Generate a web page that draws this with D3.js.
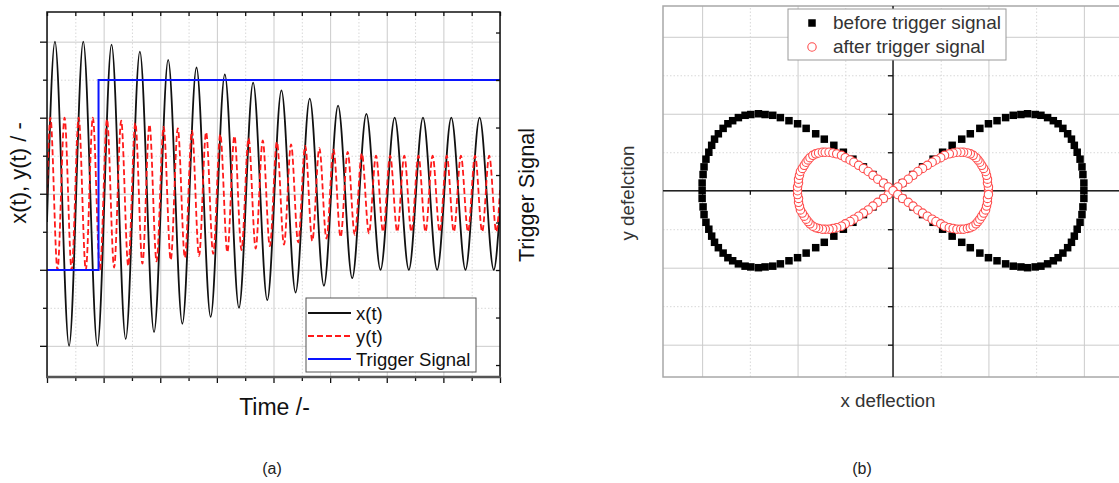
<!DOCTYPE html>
<html><head><meta charset="utf-8">
<script src="https://cdn.jsdelivr.net/npm/d3@7"></script>
<style>
body{margin:0;background:#fff}
svg{display:block}
text{font-family:"Liberation Sans",Arial,sans-serif}
</style>
</head><body>
<svg id="c" width="1119" height="483"></svg>
<script>
// ---------- Panel (a) data ----------
const timeDomain = [0, 16];
const timeMajor = [0, 2, 4, 6, 8, 10, 12, 14, 16];
const timeMinor = [1, 3, 5, 7, 9, 11, 13, 15];
const valueDomain = [-2.41, 2.39];
const valueMajor = [-2, -1, 0, 1, 2];
const valueMinor = [-1.5, -0.5, 0.5, 1.5];
const trigDomain = [-0.563, 1.358];
const trigTicks = [-0.5, -0.25, 0, 0.25, 0.5, 0.75, 1, 1.25];

// x(t): extrema
const xtT = [0,0.28,0.78,1.28,1.78,2.28,2.78,3.28,3.78,4.28,4.78,5.28,5.78,6.28,6.78,7.28,7.78,8.28,8.78,9.28,9.78,10.28,10.78,11.28,11.78,12.28,12.78,13.28,13.78,14.28,14.78,15.28,15.78,16];
const xtV = [-0.37,2.00,-2.00,2.00,-2.00,1.96,-1.91,1.87,-1.82,1.76,-1.71,1.66,-1.62,1.57,-1.50,1.46,-1.40,1.36,-1.30,1.25,-1.21,1.16,-1.11,1.05,-1.00,1.00,-1.00,1.00,-1.00,1.00,-1.00,1.00,-1.00,-0.19];

// y(t): extrema
const ytT = [0,0.12,0.37,0.62,0.87,1.12,1.37,1.62,1.87,2.12,2.37,2.62,2.87,3.12,3.37,3.62,3.87,4.12,4.37,4.62,4.87,5.12,5.37,5.62,5.87,6.12,6.37,6.62,6.87,7.12,7.37,7.62,7.87,8.12,8.37,8.62,8.87,9.12,9.37,9.62,9.87,10.12,10.37,10.62,10.87,11.12,11.37,11.62,11.87,12.12,12.37,12.62,12.87,13.12,13.37,13.62,13.87,14.12,14.37,14.62,14.87,15.12,15.37,15.62,15.87,16];
const ytV = [0,1.00,-1.00,1.00,-1.00,1.00,-1.00,1.00,-1.00,0.98,-0.97,0.96,-0.95,0.93,-0.92,0.91,-0.89,0.88,-0.87,0.86,-0.84,0.83,-0.82,0.81,-0.79,0.78,-0.77,0.76,-0.74,0.73,-0.72,0.70,-0.69,0.68,-0.67,0.65,-0.64,0.63,-0.62,0.60,-0.59,0.58,-0.57,0.55,-0.54,0.53,-0.52,0.50,-0.50,0.50,-0.50,0.50,-0.50,0.50,-0.50,0.50,-0.50,0.50,-0.50,0.50,-0.50,0.50,-0.50,0.50,-0.50,0.05];

// Trigger signal
const trigT = [0, 1.82, 16];
const trigV = [0, 1, 1];

const legendA = ["x(t)", "y(t)", "Trigger Signal"];

// ---------- Panel (b) data ----------
const defDomainX = [-2.41, 2.41];
const defDomainY = [-2.42, 2.40];
const defMajor = [-2, -1, 0, 1, 2];
const defMinor = [-1.5, -0.5, 0.5, 1.5];

const beforeX = [2.00,2.00,1.99,1.98,1.96,1.93,1.90,1.87,1.83,1.78,1.73,1.68,1.62,1.55,1.49,1.41,1.34,1.26,1.18,1.09,1.00,0.91,0.81,0.72,0.62,0.52,0.42,0.31,0.21,0.10,0.00,
-0.10,-0.21,-0.31,-0.42,-0.52,-0.62,-0.72,-0.81,-0.91,-1.00,-1.09,-1.18,-1.26,-1.34,-1.41,-1.49,-1.55,-1.62,-1.68,-1.73,-1.78,-1.83,-1.87,-1.90,-1.93,-1.96,-1.98,-1.99,-2.00,-2.00,
-2.00,-1.99,-1.98,-1.96,-1.93,-1.90,-1.87,-1.83,-1.78,-1.73,-1.68,-1.62,-1.55,-1.49,-1.41,-1.34,-1.26,-1.18,-1.09,-1.00,-0.91,-0.81,-0.72,-0.62,-0.52,-0.42,-0.31,-0.21,-0.10,0.00,
0.10,0.21,0.31,0.42,0.52,0.62,0.72,0.81,0.91,1.00,1.09,1.18,1.26,1.34,1.41,1.49,1.55,1.62,1.68,1.73,1.78,1.83,1.87,1.90,1.93,1.96,1.98,1.99,2.00];
const beforeY = [0.00,0.10,0.21,0.31,0.41,0.50,0.59,0.67,0.74,0.81,0.87,0.91,0.95,0.98,0.99,1.00,0.99,0.98,0.95,0.91,0.87,0.81,0.74,0.67,0.59,0.50,0.41,0.31,0.21,0.10,0.00,
-0.10,-0.21,-0.31,-0.41,-0.50,-0.59,-0.67,-0.74,-0.81,-0.87,-0.91,-0.95,-0.98,-0.99,-1.00,-0.99,-0.98,-0.95,-0.91,-0.87,-0.81,-0.74,-0.67,-0.59,-0.50,-0.41,-0.31,-0.21,-0.10,0.00,
0.10,0.21,0.31,0.41,0.50,0.59,0.67,0.74,0.81,0.87,0.91,0.95,0.98,0.99,1.00,0.99,0.98,0.95,0.91,0.87,0.81,0.74,0.67,0.59,0.50,0.41,0.31,0.21,0.10,0.00,
-0.10,-0.21,-0.31,-0.41,-0.50,-0.59,-0.67,-0.74,-0.81,-0.87,-0.91,-0.95,-0.98,-0.99,-1.00,-0.99,-0.98,-0.95,-0.91,-0.87,-0.81,-0.74,-0.67,-0.59,-0.50,-0.41,-0.31,-0.21,-0.10];
const afterX = [1.00,1.00,0.99,0.99,0.98,0.97,0.95,0.93,0.91,0.89,0.87,0.84,0.81,0.78,0.74,0.71,0.67,0.63,0.59,0.54,0.50,0.45,0.41,0.36,0.31,0.26,0.21,0.16,0.10,0.05,0.00,
-0.05,-0.10,-0.16,-0.21,-0.26,-0.31,-0.36,-0.41,-0.45,-0.50,-0.54,-0.59,-0.63,-0.67,-0.71,-0.74,-0.78,-0.81,-0.84,-0.87,-0.89,-0.91,-0.93,-0.95,-0.97,-0.98,-0.99,-0.99,-1.00,-1.00,
-1.00,-0.99,-0.99,-0.98,-0.97,-0.95,-0.93,-0.91,-0.89,-0.87,-0.84,-0.81,-0.78,-0.74,-0.71,-0.67,-0.63,-0.59,-0.54,-0.50,-0.45,-0.41,-0.36,-0.31,-0.26,-0.21,-0.16,-0.10,-0.05,0.00,
0.05,0.10,0.16,0.21,0.26,0.31,0.36,0.41,0.45,0.50,0.54,0.59,0.63,0.67,0.71,0.74,0.78,0.81,0.84,0.87,0.89,0.91,0.93,0.95,0.97,0.98,0.99,0.99,1.00];
const afterY = [0.00,0.05,0.10,0.15,0.20,0.25,0.29,0.33,0.37,0.40,0.43,0.46,0.48,0.49,0.50,0.50,0.50,0.49,0.48,0.46,0.43,0.40,0.37,0.33,0.29,0.25,0.20,0.15,0.10,0.05,0.00,
-0.05,-0.10,-0.15,-0.20,-0.25,-0.29,-0.33,-0.37,-0.40,-0.43,-0.46,-0.48,-0.49,-0.50,-0.50,-0.50,-0.49,-0.48,-0.46,-0.43,-0.40,-0.37,-0.33,-0.29,-0.25,-0.20,-0.15,-0.10,-0.05,0.00,
0.05,0.10,0.15,0.20,0.25,0.29,0.33,0.37,0.40,0.43,0.46,0.48,0.49,0.50,0.50,0.50,0.49,0.48,0.46,0.43,0.40,0.37,0.33,0.29,0.25,0.20,0.15,0.10,0.05,0.00,
-0.05,-0.10,-0.15,-0.20,-0.25,-0.29,-0.33,-0.37,-0.40,-0.43,-0.46,-0.48,-0.49,-0.50,-0.50,-0.50,-0.49,-0.48,-0.46,-0.43,-0.40,-0.37,-0.33,-0.29,-0.25,-0.20,-0.15,-0.10,-0.05];
const legendB = ["before trigger signal", "after trigger signal"];

// ---------- Drawing ----------
const svg = d3.select("#c");
const defs = svg.append("defs");

// ===== Panel (a) =====
const A = {l: 47, r: 500, t: 12, b: 377};
const tS = d3.scaleLinear().domain(timeDomain).range([A.l, A.r]);
const vS = d3.scaleLinear().domain(valueDomain).range([A.b, A.t]);
const gS = d3.scaleLinear().domain(trigDomain).range([A.b, A.t]);

defs.append("clipPath").attr("id", "clipA").append("rect")
  .attr("x", A.l).attr("y", A.t).attr("width", A.r - A.l).attr("height", A.b - A.t);

const ga = svg.append("g");
function grid(g, axis, major) {
  g.call(axis).call(s => s.select(".domain").remove());
  g.selectAll(".tick line").attr("stroke", major ? "#cbcbcb" : "#d8d8d8")
    .attr("stroke-width", 1).attr("stroke-dasharray", major ? null : "1.5,2");
}
// gridlines
grid(ga.append("g").attr("transform", `translate(${A.l},0)`),
  d3.axisLeft(vS).tickValues(valueMinor).tickSize(-(A.r - A.l)).tickFormat(""), false);
grid(ga.append("g").attr("transform", `translate(${A.l},0)`),
  d3.axisLeft(vS).tickValues(valueMajor).tickSize(-(A.r - A.l)).tickFormat(""), true);
grid(ga.append("g").attr("transform", `translate(0,${A.b})`),
  d3.axisBottom(tS).tickValues(timeMinor).tickSize(-(A.b - A.t)).tickFormat(""), false);
grid(ga.append("g").attr("transform", `translate(0,${A.b})`),
  d3.axisBottom(tS).tickValues(timeMajor).tickSize(-(A.b - A.t)).tickFormat(""), true);

// data lines
const dataA = ga.append("g").attr("clip-path", "url(#clipA)");
const xtPts = xtT.map((t, i) => [t, xtV[i]]);
const ytPts = ytT.map((t, i) => [t, ytV[i]]);
const trPts = trigT.map((t, i) => [t, trigV[i]]);
const lineV = d3.line().x(d => tS(d[0])).y(d => vS(d[1])).curve(d3.curveMonotoneX);
dataA.append("path").attr("d", lineV(xtPts)).attr("fill", "none")
  .attr("stroke", "#111").attr("stroke-width", 1.8);
dataA.append("path").attr("d", lineV(ytPts)).attr("fill", "none")
  .attr("stroke", "#ff1a1a").attr("stroke-width", 1.8).attr("stroke-dasharray", "6,3");
const lineT = d3.line().x(d => tS(d[0])).y(d => gS(d[1])).curve(d3.curveStepAfter);
dataA.append("path").attr("d", lineT(trPts)).attr("fill", "none")
  .attr("stroke", "#0a14ff").attr("stroke-width", 2);

// axes ticks
function ticks(g, axis) {
  g.call(axis).call(s => s.select(".domain").remove());
  g.selectAll(".tick line").attr("stroke", "#111").attr("stroke-width", 1.3);
}
ticks(svg.append("g").attr("transform", `translate(${A.l},0)`), d3.axisLeft(vS).tickValues(valueMajor).tickSize(7).tickFormat(""));
ticks(svg.append("g").attr("transform", `translate(${A.l},0)`), d3.axisLeft(vS).tickValues(valueMinor).tickSize(4).tickFormat(""));
ticks(svg.append("g").attr("transform", `translate(0,${A.t})`), d3.axisTop(tS).tickValues(timeMajor.concat(timeMinor)).tickSize(-4).tickFormat(""));
ticks(svg.append("g").attr("transform", `translate(0,${A.b})`), d3.axisBottom(tS).tickValues(timeMajor).tickSize(6).tickFormat(""));
ticks(svg.append("g").attr("transform", `translate(0,${A.b})`), d3.axisBottom(tS).tickValues(timeMinor).tickSize(4).tickFormat(""));
ticks(svg.append("g").attr("transform", `translate(${A.r},0)`), d3.axisRight(gS).tickValues(trigTicks).tickSize(-4).tickFormat(""));

// frame
svg.append("path").attr("d", `M${A.l},${A.b}V${A.t}H${A.r}V${A.b}`)
  .attr("fill", "none").attr("stroke", "#111").attr("stroke-width", 1.5);
svg.append("line").attr("x1", A.l - 1).attr("x2", A.r + 1).attr("y1", A.b).attr("y2", A.b)
  .attr("stroke", "#555").attr("stroke-width", 2.5);

// legend (a)
const lgA = svg.append("g");
lgA.append("rect").attr("x", 306).attr("y", 298).attr("width", 170).attr("height", 74)
  .attr("fill", "#fff").attr("stroke", "#555").attr("stroke-width", 1);
const lgStyles = [
  {c: "#111", w: 1.8, d: null},
  {c: "#ff1a1a", w: 1.8, d: "6,3"},
  {c: "#0a14ff", w: 2, d: null}
];
legendA.forEach((name, i) => {
  const y = 313 + i * 23;
  lgA.append("line").attr("x1", 308).attr("x2", 351).attr("y1", y).attr("y2", y)
    .attr("stroke", lgStyles[i].c).attr("stroke-width", lgStyles[i].w).attr("stroke-dasharray", lgStyles[i].d);
  lgA.append("text").attr("x", 356).attr("y", y + 6.5).attr("font-size", 18.5).attr("fill", "#111").text(name);
});

// axis labels (a)
svg.append("text").attr("transform", "translate(26,173) rotate(-90)").attr("text-anchor", "middle")
  .attr("font-size", 22).attr("fill", "#111").text("x(t), y(t) / -");
svg.append("text").attr("transform", "translate(534,195) rotate(-90)").attr("text-anchor", "middle")
  .attr("font-size", 21.7).attr("fill", "#111").text("Trigger Signal");
svg.append("text").attr("x", 274.5).attr("y", 415).attr("text-anchor", "middle")
  .attr("font-size", 23).attr("fill", "#111").text("Time /-");
svg.append("text").attr("x", 272).attr("y", 474).attr("text-anchor", "middle")
  .attr("font-size", 16).attr("fill", "#222").text("(a)");

// ===== Panel (b) =====
const B = {l: 663, r: 1123, t: 6, b: 377};
const xd = d3.scaleLinear().domain(defDomainX).range([B.l, B.r]);
const yd = d3.scaleLinear().domain(defDomainY).range([B.b, B.t]);
const gb = svg.append("g");

grid(gb.append("g").attr("transform", `translate(${B.l},0)`),
  d3.axisLeft(yd).tickValues(defMinor).tickSize(-(B.r - B.l)).tickFormat(""), false);
grid(gb.append("g").attr("transform", `translate(${B.l},0)`),
  d3.axisLeft(yd).tickValues(defMajor).tickSize(-(B.r - B.l)).tickFormat(""), true);
grid(gb.append("g").attr("transform", `translate(0,${B.b})`),
  d3.axisBottom(xd).tickValues(defMinor).tickSize(-(B.b - B.t)).tickFormat(""), false);
grid(gb.append("g").attr("transform", `translate(0,${B.b})`),
  d3.axisBottom(xd).tickValues(defMajor).tickSize(-(B.b - B.t)).tickFormat(""), true);

// frame
svg.append("rect").attr("x", B.l).attr("y", B.t).attr("width", B.r - B.l).attr("height", B.b - B.t)
  .attr("fill", "none").attr("stroke", "#a8a8a8").attr("stroke-width", 1.5);

// central axes
const ax0 = svg.append("g");
ax0.append("line").attr("x1", B.l).attr("x2", B.r).attr("y1", yd(0)).attr("y2", yd(0))
  .attr("stroke", "#222").attr("stroke-width", 1.5);
ax0.append("line").attr("x1", xd(0)).attr("x2", xd(0)).attr("y1", B.t).attr("y2", B.b)
  .attr("stroke", "#222").attr("stroke-width", 1.5);
ticks(svg.append("g").attr("transform", `translate(0,${yd(0)})`),
  d3.axisBottom(xd).tickValues(defMajor.concat(defMinor)).tickSize(4).tickFormat(""));
ticks(svg.append("g").attr("transform", `translate(${xd(0)},0)`),
  d3.axisLeft(yd).tickValues(defMajor.concat(defMinor)).tickSize(5).tickFormat(""));

// points
const sq = 7.5;
svg.append("g").selectAll("rect").data(beforeX.map((x, i) => [x, beforeY[i]])).join("rect")
  .attr("x", d => xd(d[0]) - sq / 2).attr("y", d => yd(d[1]) - sq / 2)
  .attr("width", sq).attr("height", sq).attr("fill", "#000");
svg.append("g").selectAll("circle").data(afterX.map((x, i) => [x, afterY[i]])).join("circle")
  .attr("cx", d => xd(d[0])).attr("cy", d => yd(d[1])).attr("r", 4.2)
  .attr("fill", "#fff").attr("stroke", "#ff4d4d").attr("stroke-width", 1.1);

// legend (b)
const lgB = svg.append("g");
lgB.append("rect").attr("x", 788).attr("y", 9).attr("width", 218).attr("height", 51)
  .attr("fill", "#fff").attr("stroke", "#999").attr("stroke-width", 1);
lgB.append("rect").attr("x", 812 - sq / 2).attr("y", 23 - sq / 2).attr("width", sq).attr("height", sq).attr("fill", "#000");
lgB.append("circle").attr("cx", 812).attr("cy", 47).attr("r", 4.2)
  .attr("fill", "#fff").attr("stroke", "#ff4d4d").attr("stroke-width", 1.1);
legendB.forEach((name, i) => {
  lgB.append("text").attr("x", 833).attr("y", 29 + i * 23.5).attr("font-size", 19).attr("fill", "#333").text(name);
});

// axis labels (b)
svg.append("text").attr("x", 888).attr("y", 407).attr("text-anchor", "middle")
  .attr("font-size", 18.8).attr("fill", "#333").text("x deflection");
svg.append("text").attr("transform", "translate(634,193) rotate(-90)").attr("text-anchor", "middle")
  .attr("font-size", 18.8).attr("fill", "#333").text("y defelction");
svg.append("text").attr("x", 862).attr("y", 474).attr("text-anchor", "middle")
  .attr("font-size", 16).attr("fill", "#222").text("(b)");
</script>
</body></html>
